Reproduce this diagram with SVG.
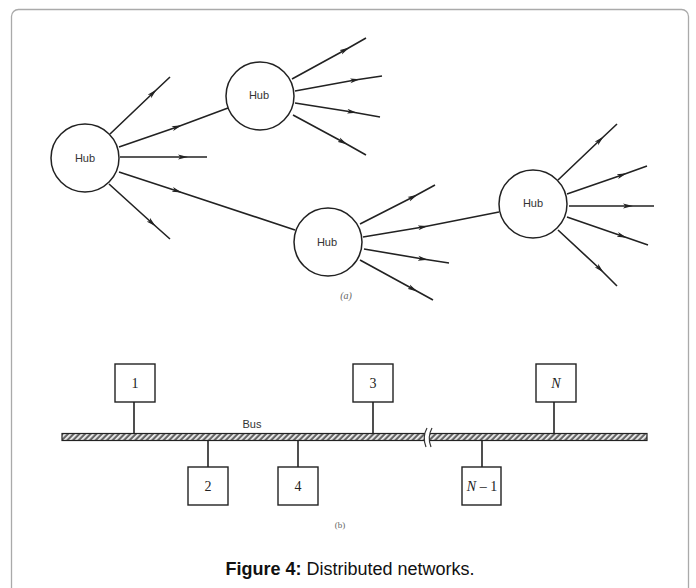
<svg xmlns="http://www.w3.org/2000/svg" width="696" height="588" viewBox="0 0 696 588">
<style>
.hub{fill:#fff;stroke:#222;stroke-width:1.5}
.ht{font-family:"Liberation Sans",Arial,sans-serif;font-size:11px;fill:#333;text-anchor:middle}
.sp{fill:none;stroke:#222;stroke-width:1.6;marker-mid:url(#ah)}
.box{fill:#fff;stroke:#222;stroke-width:1.4}
.bt{font-family:"Liberation Serif","Times New Roman",serif;font-size:14px;fill:#222;text-anchor:middle}
.stem{stroke:#222;stroke-width:1.6}
.lab{font-family:"Liberation Serif","Times New Roman",serif;font-size:10px;fill:#666;text-anchor:middle;font-style:italic}
</style>
<defs>
<marker id="ah" viewBox="0 0 10 6" refX="5" refY="3" markerWidth="10" markerHeight="6" markerUnits="userSpaceOnUse" orient="auto">
<path d="M0,0.5 L10,3 L0,5.5 L2.5,3 z" fill="#222"/>
</marker>
<pattern id="hatch" width="4" height="4" patternUnits="userSpaceOnUse" patternTransform="rotate(45)">
<rect width="4" height="4" fill="#666"/>
<rect x="0" y="0" width="1.8" height="4" fill="#f2f2f2"/>
</pattern>
</defs>
<rect x="11.5" y="9.5" width="677" height="620" rx="7" fill="#fff" stroke="#aaa" stroke-width="1.3"/>

<g id="connectors">
<!-- hub1 -->
<path class="sp" d="M110,134 L153,93 L170,77"/>
<path class="sp" d="M119,147 L177,127 L228,108"/>
<path class="sp" d="M120,157 L183,157 L207,157"/>
<path class="sp" d="M119,172 L177,191 L295,230"/>
<path class="sp" d="M109,184 L152,223 L170,239"/>
<!-- hub2 -->
<path class="sp" d="M292,79 L345,50 L366,38"/>
<path class="sp" d="M295,91 L355,80 L382,76"/>
<path class="sp" d="M295,103 L352,112 L380,117"/>
<path class="sp" d="M293,115 L343,142 L366,155"/>
<!-- hub3 -->
<path class="sp" d="M360,224 L413,197 L435,185"/>
<path class="sp" d="M363,237 L423,227 L499,212"/>
<path class="sp" d="M364,249 L423,259 L449,263"/>
<path class="sp" d="M360,260 L413,289 L433,300"/>
<!-- hub4 -->
<path class="sp" d="M558,180 L600,140 L617,124"/>
<path class="sp" d="M567,194 L622,175 L647,166"/>
<path class="sp" d="M569,206 L628,206 L654,206"/>
<path class="sp" d="M567,217 L622,236 L648,245"/>
<path class="sp" d="M558,230 L600,269 L617,286"/>
<!-- bus stems -->
<line class="stem" x1="134" y1="402" x2="134" y2="434"/>
<line class="stem" x1="373" y1="402" x2="373" y2="434"/>
<line class="stem" x1="554" y1="402" x2="554" y2="434"/>
<line class="stem" x1="208" y1="441" x2="208" y2="467"/>
<line class="stem" x1="298" y1="441" x2="298" y2="467"/>
<line class="stem" x1="482" y1="441" x2="482" y2="467"/>
</g>

<g id="hub1"><circle class="hub" cx="85" cy="158" r="34"/><text class="ht" x="85" y="162">Hub</text></g>
<g id="hub2"><circle class="hub" cx="260" cy="96" r="34"/><text class="ht" x="259" y="99">Hub</text></g>
<g id="hub3"><circle class="hub" cx="328" cy="242" r="34"/><text class="ht" x="327" y="246">Hub</text></g>
<g id="hub4"><circle class="hub" cx="533" cy="204" r="34"/><text class="ht" x="533" y="207">Hub</text></g>

<text class="lab" x="346" y="299">(a)</text>

<g id="bus">
<rect x="62" y="433.5" width="585" height="7" fill="url(#hatch)" stroke="#222" stroke-width="1.2"/>
<rect x="425" y="432" width="5" height="10" fill="#fff"/>
<path d="M427,428 Q422,437 426,447" fill="none" stroke="#333" stroke-width="1.2"/>
<path d="M432,428 Q427,437 431,447" fill="none" stroke="#333" stroke-width="1.2"/>
<text class="ht" x="252" y="428">Bus</text>
</g>

<g id="node1"><rect class="box" x="115" y="364" width="40" height="38"/><text class="bt" x="135" y="388">1</text></g>
<g id="node3"><rect class="box" x="353" y="364" width="40" height="38"/><text class="bt" x="373" y="388">3</text></g>
<g id="nodeN"><rect class="box" x="536" y="364" width="40" height="38"/><text class="bt" x="556" y="388" font-style="italic">N</text></g>
<g id="node2"><rect class="box" x="188" y="467" width="40" height="38"/><text class="bt" x="208" y="491">2</text></g>
<g id="node4"><rect class="box" x="278" y="467" width="40" height="38"/><text class="bt" x="298" y="491">4</text></g>
<g id="nodeN1"><rect class="box" x="462" y="467" width="39" height="38"/><text class="bt" x="482" y="491"><tspan font-style="italic">N</tspan> – 1</text></g>

<text class="lab" x="340" y="528" style="font-style:normal;font-size:9px">(b)</text>

<text x="350" y="575" font-family="'Liberation Sans',Arial,sans-serif" font-size="18" fill="#111" text-anchor="middle"><tspan font-weight="bold">Figure 4:</tspan> Distributed networks.</text>
</svg>
